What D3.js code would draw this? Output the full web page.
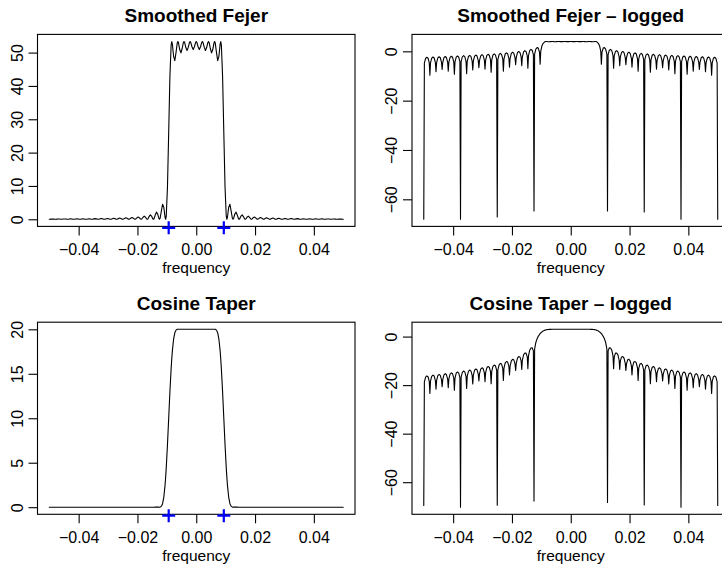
<!DOCTYPE html>
<html><head><meta charset="utf-8">
<script src="https://cdn.jsdelivr.net/npm/d3@7"></script>
<style>
body{margin:0;background:#fff}
svg{display:block}
text{font-family:"Liberation Sans",Arial,Helvetica,sans-serif;fill:#000}
</style>
</head><body>
<svg id="c" width="722" height="567"></svg>
<script>
// ---------------- DATA ----------------
const freq = [
-0.05,-0.049792,-0.049375,-0.048958,-0.048542,-0.048125,
-0.047917,-0.047708,-0.047292,-0.046875,-0.046458,-0.046042,
-0.045833,-0.045625,-0.045208,-0.044792,-0.044375,-0.043958,
-0.04375,-0.043542,-0.043125,-0.042708,-0.042292,-0.041875,
-0.041667,-0.041458,-0.041042,-0.040625,-0.040208,-0.039792,
-0.039583,-0.039375,-0.038958,-0.038542,-0.038125,-0.037708,
-0.0375,-0.037292,-0.036875,-0.036458,-0.036042,-0.035625,
-0.035417,-0.035208,-0.034792,-0.034375,-0.033958,-0.033542,
-0.033333,-0.033125,-0.032708,-0.032292,-0.031875,-0.031458,
-0.03125,-0.031042,-0.030625,-0.030208,-0.029792,-0.029375,
-0.029167,-0.028958,-0.028542,-0.028125,-0.027708,-0.027292,
-0.027083,-0.026875,-0.026458,-0.026042,-0.025625,-0.025208,
-0.025,-0.024792,-0.024375,-0.023958,-0.023542,-0.023125,
-0.022917,-0.022708,-0.022292,-0.021875,-0.021458,-0.021042,
-0.020833,-0.020625,-0.020208,-0.019792,-0.019375,-0.018958,
-0.01875,-0.018542,-0.018125,-0.017708,-0.017292,-0.016875,
-0.016667,-0.016458,-0.016042,-0.015625,-0.015208,-0.014792,
-0.014583,-0.014375,-0.013958,-0.013542,-0.013125,-0.012708,
-0.0125,-0.012292,-0.011875,-0.011458,-0.011042,-0.010625,
-0.010417,-0.010208,-0.009792,-0.009375,-0.008958,-0.008542,
-0.008333,-0.008125,-0.007708,-0.007292,-0.006875,-0.006458,
-0.00625,-0.006042,-0.005625,-0.005208,-0.004792,-0.004375,
-0.004167,-0.003958,-0.003542,-0.003125,-0.002708,-0.002292,
-0.002083,-0.001875,-0.001458,-0.001042,-0.000625,-0.000208,
0,0.000208,0.000625,0.001042,0.001458,0.001875,
0.002083,0.002292,0.002708,0.003125,0.003542,0.003958,
0.004167,0.004375,0.004792,0.005208,0.005625,0.006042,
0.00625,0.006458,0.006875,0.007292,0.007708,0.008125,
0.008333,0.008542,0.008958,0.009375,0.009792,0.010208,
0.010417,0.010625,0.011042,0.011458,0.011875,0.012292,
0.0125,0.012708,0.013125,0.013542,0.013958,0.014375,
0.014583,0.014792,0.015208,0.015625,0.016042,0.016458,
0.016667,0.016875,0.017292,0.017708,0.018125,0.018542,
0.01875,0.018958,0.019375,0.019792,0.020208,0.020625,
0.020833,0.021042,0.021458,0.021875,0.022292,0.022708,
0.022917,0.023125,0.023542,0.023958,0.024375,0.024792,
0.025,0.025208,0.025625,0.026042,0.026458,0.026875,
0.027083,0.027292,0.027708,0.028125,0.028542,0.028958,
0.029167,0.029375,0.029792,0.030208,0.030625,0.031042,
0.03125,0.031458,0.031875,0.032292,0.032708,0.033125,
0.033333,0.033542,0.033958,0.034375,0.034792,0.035208,
0.035417,0.035625,0.036042,0.036458,0.036875,0.037292,
0.0375,0.037708,0.038125,0.038542,0.038958,0.039375,
0.039583,0.039792,0.040208,0.040625,0.041042,0.041458,
0.041667,0.041875,0.042292,0.042708,0.043125,0.043542,
0.04375,0.043958,0.044375,0.044792,0.045208,0.045625,
0.045833,0.046042,0.046458,0.046875,0.047292,0.047708,
0.047917,0.048125,0.048542,0.048958,0.049375,0.049792,
0.05
];

const fejer = [
0,0.01,0.06,0.09,0.06,0.01,
0,0.01,0.06,0.10,0.07,0.01,
0,0.01,0.07,0.11,0.07,0.01,
0,0.01,0.08,0.12,0.08,0.01,
0,0.01,0.09,0.14,0.09,0.01,
0,0.01,0.10,0.15,0.10,0.02,
0,0.02,0.11,0.17,0.11,0.02,
0,0.02,0.12,0.19,0.13,0.02,
0,0.02,0.14,0.22,0.15,0.02,
0,0.02,0.16,0.26,0.17,0.03,
0,0.03,0.19,0.30,0.20,0.03,
0,0.03,0.23,0.36,0.24,0.04,
0,0.04,0.27,0.43,0.30,0.05,
0,0.05,0.34,0.54,0.37,0.06,
0,0.06,0.43,0.69,0.48,0.07,
0,0.08,0.57,0.93,0.65,0.10,
0,0.11,0.81,1.34,0.96,0.15,
0,0.17,1.27,2.16,1.59,0.27,
0,0.31,2.46,4.51,3.65,0.69,
0,0.94,9.64,26.06,42.91,52.28,
53.33,52.53,48.89,47.61,50.07,52.91,
53.33,52.95,50.92,49.91,51.23,53.04,
53.33,53.05,51.51,50.65,51.63,53.09,
53.33,53.10,51.76,50.91,51.76,53.10,
53.33,53.10,51.76,50.91,51.76,53.10,
53.33,53.09,51.63,50.65,51.51,53.05,
53.33,53.04,51.23,49.91,50.92,52.95,
53.33,52.91,50.07,47.61,48.89,52.53,
53.33,52.28,42.91,26.06,9.64,0.94,
0,0.69,3.65,4.51,2.46,0.31,
0,0.27,1.59,2.16,1.27,0.17,
0,0.15,0.96,1.34,0.81,0.11,
0,0.10,0.65,0.93,0.57,0.08,
0,0.07,0.48,0.69,0.43,0.06,
0,0.06,0.37,0.54,0.34,0.05,
0,0.05,0.30,0.43,0.27,0.04,
0,0.04,0.24,0.36,0.23,0.03,
0,0.03,0.20,0.30,0.19,0.03,
0,0.03,0.17,0.26,0.16,0.02,
0,0.02,0.15,0.22,0.14,0.02,
0,0.02,0.13,0.19,0.12,0.02,
0,0.02,0.11,0.17,0.11,0.02,
0,0.02,0.10,0.15,0.10,0.01,
0,0.01,0.09,0.14,0.09,0.01,
0,0.01,0.08,0.12,0.08,0.01,
0,0.01,0.07,0.11,0.07,0.01,
0,0.01,0.07,0.10,0.06,0.01,
0,0.01,0.06,0.09,0.06,0.01,
0
];

const fejerLog = [
-68.1,-4.777,-2.834,-2.393,-2.799,-4.706,
-9.72,-4.688,-2.745,-2.302,-2.708,-4.614,
-8.24,-4.595,-2.651,-2.208,-2.612,-4.517,
-7.33,-4.497,-2.552,-2.108,-2.511,-4.415,
-8.04,-4.394,-2.448,-2.003,-2.405,-4.308,
-9.32,-4.285,-2.338,-1.891,-2.292,-4.193,
-68.1,-4.170,-2.221,-1.773,-2.172,-4.072,
-9.08,-4.047,-2.096,-1.646,-2.044,-3.942,
-7.56,-3.915,-1.962,-1.511,-1.906,-3.802,
-6.61,-3.773,-1.818,-1.364,-1.757,-3.651,
-7.27,-3.619,-1.661,-1.205,-1.595,-3.486,
-8.49,-3.451,-1.490,-1.031,-1.417,-3.304,
-67.2,-3.265,-1.300,-0.837,-1.219,-3.101,
-8.10,-3.058,-1.088,-0.619,-0.995,-2.872,
-6.48,-2.822,-0.845,-0.369,-0.737,-2.605,
-5.40,-2.546,-0.559,-0.074,-0.430,-2.286,
-5.88,-2.214,-0.212,0.289,-0.046,-1.883,
-6.86,-1.787,0.242,0.770,0.465,-1.324,
-64.7,-1.186,0.900,1.507,1.295,-0.377,
-5.25,-0.065,2.266,3.260,3.759,3.957,
3.977,3.961,3.890,3.863,3.914,3.969,
3.977,3.969,3.930,3.910,3.936,3.971,
3.977,3.971,3.942,3.925,3.944,3.972,
3.977,3.972,3.947,3.930,3.947,3.972,
3.977,3.972,3.947,3.930,3.947,3.972,
3.977,3.972,3.944,3.925,3.942,3.971,
3.977,3.971,3.936,3.910,3.930,3.969,
3.977,3.969,3.914,3.863,3.890,3.961,
3.977,3.957,3.759,3.260,2.266,-0.065,
-5.25,-0.377,1.295,1.507,0.900,-1.186,
-64.7,-1.324,0.465,0.770,0.242,-1.787,
-6.86,-1.883,-0.046,0.289,-0.212,-2.214,
-5.88,-2.286,-0.430,-0.074,-0.559,-2.546,
-5.40,-2.605,-0.737,-0.369,-0.845,-2.822,
-6.48,-2.872,-0.995,-0.619,-1.088,-3.058,
-8.10,-3.101,-1.219,-0.837,-1.300,-3.265,
-65.1,-3.304,-1.417,-1.031,-1.490,-3.451,
-8.49,-3.486,-1.595,-1.205,-1.661,-3.619,
-7.27,-3.651,-1.757,-1.364,-1.818,-3.773,
-6.61,-3.802,-1.906,-1.511,-1.962,-3.915,
-7.56,-3.942,-2.044,-1.646,-2.096,-4.047,
-9.08,-4.072,-2.172,-1.773,-2.221,-4.170,
-68.1,-4.193,-2.292,-1.891,-2.338,-4.285,
-9.32,-4.308,-2.405,-2.003,-2.448,-4.394,
-8.04,-4.415,-2.511,-2.108,-2.552,-4.497,
-7.33,-4.517,-2.612,-2.208,-2.651,-4.595,
-8.24,-4.614,-2.708,-2.302,-2.745,-4.688,
-9.72,-4.706,-2.799,-2.393,-2.834,-4.777,
-68.1
];

const cosine = [
0,0,0,0,0,0, 0,0,0,0,0,0, 0,0,0,0,0,0, 0,0,0,0,0,0,
0,0,0,0,0,0, 0,0,0,0,0,0, 0,0,0,0,0,0, 0,0,0,0,0,0,
0,0,0,0,0,0, 0,0,0,0,0,0, 0,0,0,0,0,0, 0,0,0,0,0,0,
0,0,0,0,0,0, 0,0,0,0,0,0, 0,0,0,0,0,0, 0,0,0,0,0,0,
0,0,0,0,0,0,
0,0,0.004,0.009,0.010,0.003,
0,0.01,0.09,0.39,1.11,2.42,
3.33,4.42,7.03,10.00,12.97,15.58,
16.67,17.58,18.89,19.61,19.91,20.00,
20,20,20,20,20,20,
20,20,20,20,20,20,
20,20,20,20,20,20,
20,20,20,20,20,20,
20,20,20,20,20,20,
20,20,20,20,20,20,
20,20.00,19.91,19.61,18.89,17.58,
16.67,15.58,12.97,10.00,7.03,4.42,
3.33,2.42,1.11,0.39,0.09,0.01,
0,0.003,0.010,0.009,0.004,0,
0,0,0,0,0,0, 0,0,0,0,0,0, 0,0,0,0,0,0, 0,0,0,0,0,0,
0,0,0,0,0,0, 0,0,0,0,0,0, 0,0,0,0,0,0, 0,0,0,0,0,0,
0,0,0,0,0,0, 0,0,0,0,0,0, 0,0,0,0,0,0, 0,0,0,0,0,0,
0,0,0,0,0,0, 0,0,0,0,0,0, 0,0,0,0,0,0, 0,0,0,0,0,0,
0,0,0,0,0,0,
0
];

const cosineLog = [
-69.6,-18.644,-16.664,-16.186,-16.553,-18.422,
-23.42,-18.365,-16.383,-15.901,-16.266,-18.132,
-21.73,-18.072,-16.086,-15.601,-15.963,-17.825,
-20.62,-17.762,-15.773,-15.285,-15.642,-17.501,
-21.10,-17.434,-15.440,-14.948,-15.302,-17.156,
-22.14,-17.085,-15.087,-14.590,-14.939,-16.788,
-70.3,-16.712,-14.709,-14.207,-14.550,-16.394,
-21.37,-16.312,-14.303,-13.795,-14.131,-15.969,
-19.56,-15.879,-13.863,-13.348,-13.677,-15.506,
-18.28,-15.409,-13.384,-12.861,-13.180,-15.000,
-18.58,-14.893,-12.858,-12.324,-12.632,-14.441,
-19.40,-14.321,-12.273,-11.726,-12.019,-13.813,
-69.5,-13.678,-11.614,-11.051,-11.325,-13.100,
-18.05,-12.944,-10.858,-10.273,-10.521,-12.270,
-15.81,-12.087,-9.970,-9.354,-9.566,-11.278,
-13.99,-11.054,-8.892,-8.230,-8.385,-10.041,
-13.54,-9.750,-7.514,-6.779,-6.833,-8.388,
-13.22,-7.995,-5.626,-4.713,-4.592,-5.900,
-67.8,-5.189,-2.416,-0.934,0.104,0.884,
1.204,1.486,1.950,2.303,2.563,2.746,
2.813,2.867,2.939,2.976,2.991,2.996,
2.996,2.996,2.996,2.996,2.996,2.996,
2.996,2.996,2.996,2.996,2.996,2.996,
2.996,2.996,2.996,2.996,2.996,2.996,
2.996,2.996,2.996,2.996,2.996,2.996,
2.996,2.996,2.996,2.996,2.996,2.996,
2.996,2.996,2.996,2.996,2.996,2.996,
2.996,2.996,2.991,2.976,2.939,2.867,
2.813,2.746,2.563,2.303,1.950,1.486,
1.204,0.884,0.104,-0.934,-2.416,-5.189,
-68.4,-5.900,-4.592,-4.713,-5.626,-7.995,
-13.22,-8.388,-6.833,-6.779,-7.514,-9.750,
-13.54,-10.041,-8.385,-8.230,-8.892,-11.054,
-13.99,-11.278,-9.566,-9.354,-9.970,-12.087,
-15.81,-12.270,-10.521,-10.273,-10.858,-12.944,
-18.05,-13.100,-11.325,-11.051,-11.614,-13.678,
-69.4,-13.813,-12.019,-11.726,-12.273,-14.321,
-19.40,-14.441,-12.632,-12.324,-12.858,-14.893,
-18.58,-15.000,-13.180,-12.861,-13.384,-15.409,
-18.28,-15.506,-13.677,-13.348,-13.863,-15.879,
-19.56,-15.969,-14.131,-13.795,-14.303,-16.312,
-21.37,-16.394,-14.550,-14.207,-14.709,-16.712,
-70.3,-16.788,-14.939,-14.590,-15.087,-17.085,
-22.14,-17.156,-15.302,-14.948,-15.440,-17.434,
-21.10,-17.501,-15.642,-15.285,-15.773,-17.762,
-20.62,-17.825,-15.963,-15.601,-16.086,-18.072,
-21.73,-18.132,-16.266,-15.901,-16.383,-18.365,
-23.42,-18.422,-16.553,-16.186,-16.664,-18.644,
-69.6
];

const bandEdges = [-0.009375, 0.009375];
const xTicks = [-0.04, -0.02, 0, 0.02, 0.04];
const fejerTicks = [0, 10, 20, 30, 40, 50];
const cosineTicks = [0, 5, 10, 15, 20];
const logTicks = [-60, -40, -20, 0];
const titles = ["Smoothed Fejer", "Smoothed Fejer \u2013 logged", "Cosine Taper", "Cosine Taper \u2013 logged"];
const xLabel = "frequency";

// ---------------- LAYOUT ----------------
const panels = [
  {title: titles[0], values: fejer,     yTicks: fejerTicks,  marks: true,  L: 37.5, R: 355,   T: 34.4,  B: 226.4},
  {title: titles[1], values: fejerLog,  yTicks: logTicks,    marks: false, L: 412,  R: 729.5, T: 34.4,  B: 226.4},
  {title: titles[2], values: cosine,    yTicks: cosineTicks, marks: true,  L: 37.5, R: 355,   T: 322.2, B: 514.3},
  {title: titles[3], values: cosineLog, yTicks: logTicks,    marks: false, L: 412,  R: 729.5, T: 322.2, B: 514.3}
];

const svg = d3.select("#c");
const FONT = '"Liberation Sans",Arial,Helvetica,sans-serif';
const pad = ([a, b]) => { const d = (b - a) * 0.04; return [a - d, b + d]; };

panels.forEach(p => {
  const g = svg.append("g");
  const x = d3.scaleLinear().domain(pad(d3.extent(freq))).range([p.L, p.R]);
  const y = d3.scaleLinear().domain(pad(d3.extent(p.values))).range([p.B, p.T]);

  // curve
  const pts = d3.zip(freq, p.values);
  g.append("path")
    .attr("d", d3.line().x(d => x(d[0])).y(d => y(d[1]))(pts))
    .attr("fill", "none").attr("stroke", "#000").attr("stroke-width", 1.1)
    .attr("stroke-linejoin", "round").attr("stroke-linecap", "round");

  // box
  g.append("rect").attr("x", p.L).attr("y", p.T)
    .attr("width", p.R - p.L).attr("height", p.B - p.T)
    .attr("fill", "none").attr("stroke", "#000").attr("stroke-width", 1.1);

  // x axis
  const xa = g.append("g").attr("transform", `translate(0,${p.B})`)
    .call(d3.axisBottom(x).tickValues(xTicks).tickFormat(d3.format(".2f")).tickSize(9).tickPadding(8.3));
  xa.select(".domain").remove();
  xa.attr("font-size", 16).attr("font-family", FONT);
  xa.selectAll("line").attr("stroke", "#000").attr("stroke-width", 1.1);
  xa.selectAll("text").attr("fill", "#000");

  // y axis
  const ya = g.append("g").attr("transform", `translate(${p.L},0)`)
    .call(d3.axisLeft(y).tickValues(p.yTicks).tickFormat(d3.format("d")).tickSize(9));
  ya.select(".domain").remove();
  ya.attr("font-size", 16).attr("font-family", FONT);
  ya.selectAll("line").attr("stroke", "#000").attr("stroke-width", 1.1);
  ya.selectAll("text").attr("fill", "#000")
    .attr("x", 0).attr("y", -14.8).attr("dy", 0)
    .attr("text-anchor", "middle").attr("transform", "rotate(-90)");

  // title
  g.append("text").attr("x", (p.L + p.R) / 2).attr("y", p.T - 12.5)
    .attr("text-anchor", "middle").attr("font-size", 19).attr("font-weight", "bold")
    .text(p.title);

  // x label
  g.append("text").attr("x", (p.L + p.R) / 2).attr("y", p.B + 47)
    .attr("text-anchor", "middle").attr("font-size", 15.5).text(xLabel);

  // band-edge markers
  if (p.marks) {
    g.selectAll(".mk").data(bandEdges).enter().append("path")
      .attr("transform", d => `translate(${x(d)},${p.B + 1.4})`)
      .attr("d", "M-6.5,0H6.5M0,-6.5V6.5")
      .attr("stroke", "#0000ff").attr("stroke-width", 2.2).attr("fill", "none");
  }
});
</script>
</body></html>
